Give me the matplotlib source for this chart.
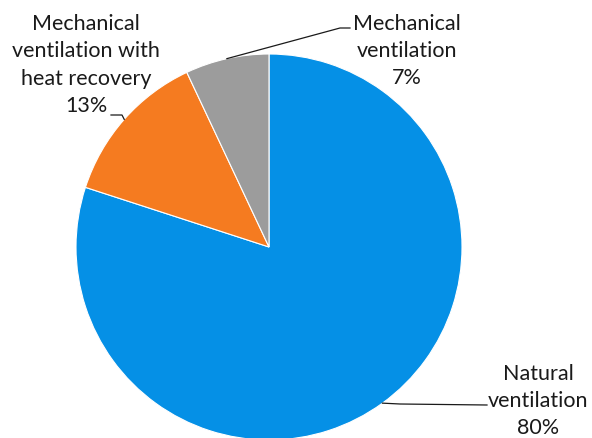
import numpy as np
import matplotlib
matplotlib.use("Agg")
import matplotlib.pyplot as plt

categories = ["Natural\nventilation", "Mechanical\nventilation with\nheat recovery", "Mechanical\nventilation"]
values = [80, 13, 7]
pct_labels = ["80%", "13%", "7%"]
colors = ["#0590E6", "#F57B20", "#9C9C9C"]

W, H = 592, 438
fig = plt.figure(figsize=(W / 100, H / 100), dpi=100)
ax = fig.add_axes([0, 0, 1, 1])

cx, cy, R = 269, H - 247, 193
wedges, _ = ax.pie(values, colors=colors, startangle=90, counterclock=False,
                   center=(cx, cy), radius=R, frame=True,
                   wedgeprops=dict(edgecolor="white", linewidth=0.8))
ax.set_xlim(0, W)
ax.set_ylim(0, H)
ax.set_aspect("equal")
ax.axis("off")

font = dict(family="Lato", size=15.5, color="#1a1a1a", ha="center", va="center",
            linespacing=1.45)

# label centres (pixel coords, top-left origin)
text_pos = [(538, 401), (86, 65), (407, 51)]
# leader line: text end point and elbow (pixels); the pie end is the wedge mid-angle
leaders = [
    [(487, 405), (400, 404)],
    [(111, 115), (122, 115)],
    [(350, 28), (340, 28)],
]

for w, cat, pct, tp, ld in zip(wedges, categories, pct_labels, text_pos, leaders):
    ax.text(tp[0], H - tp[1], cat + "\n" + pct, **font)
    th = np.deg2rad((w.theta1 + w.theta2) / 2)
    px, py = cx + R * np.cos(th), cy + R * np.sin(th)
    xs = [ld[0][0], ld[1][0], px]
    ys = [H - ld[0][1], H - ld[1][1], py]
    ax.plot(xs, ys, color="#1a1a1a", lw=0.9, zorder=5)

fig.savefig("out.png", dpi=100)
